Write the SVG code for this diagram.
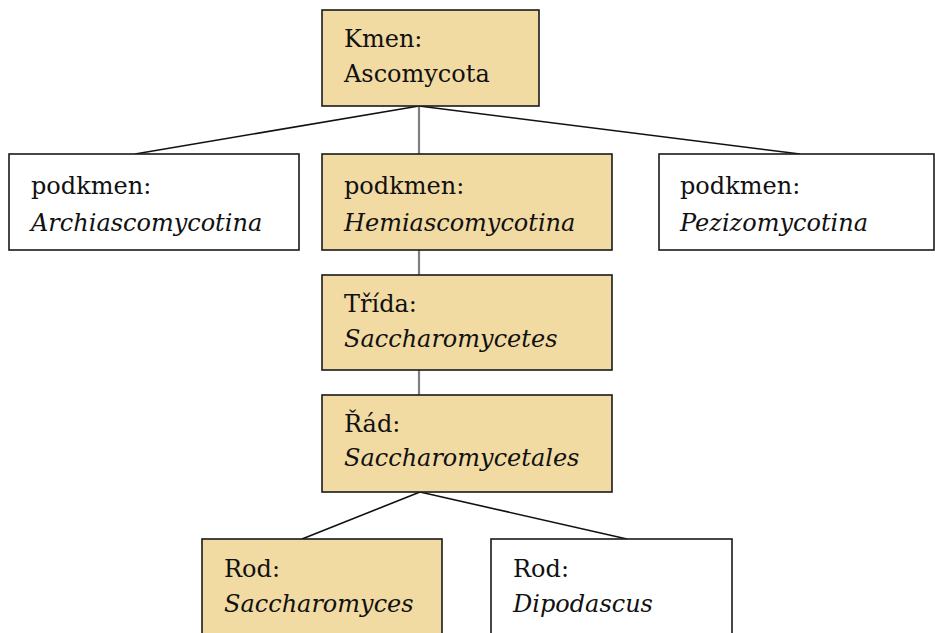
<svg xmlns="http://www.w3.org/2000/svg" width="935" height="633" viewBox="0 0 935 633">
<style>
.box{stroke:#1a1a1a;stroke-width:1.6}
.hl{fill:#F1DBA3}
.pl{fill:#ffffff}
text{font-family:"DejaVu Serif","Liberation Serif",serif;font-size:24px;fill:#111}
.it{font-style:italic}
.ln{stroke:#111;stroke-width:1.6;fill:none}
.gr{stroke:#808080;stroke-width:2.2;fill:none}
</style>
<rect width="935" height="633" fill="#ffffff"/>
<g id="connectors">
<line class="ln" x1="419" y1="106" x2="135" y2="154"/>
<line class="gr" x1="419" y1="106" x2="419" y2="154"/>
<line class="ln" x1="419" y1="106" x2="800" y2="154"/>
<line class="gr" x1="419" y1="250" x2="419" y2="275"/>
<line class="gr" x1="419" y1="370" x2="419" y2="395"/>
<line class="ln" x1="420" y1="492" x2="302" y2="539"/>
<line class="ln" x1="420" y1="492" x2="627" y2="539"/>
</g>
<g id="kmen">
<rect class="box hl" x="322" y="10" width="217" height="96"/>
<text x="344" y="47">Kmen:</text>
<text x="344" y="82">Ascomycota</text>
</g>
<g id="archi">
<rect class="box pl" x="9" y="154" width="290" height="96"/>
<text x="31" y="194">podkmen:</text>
<text x="31" y="231" class="it">Archiascomycotina</text>
</g>
<g id="hemi">
<rect class="box hl" x="322" y="154" width="290" height="96"/>
<text x="344" y="194">podkmen:</text>
<text x="344" y="231" class="it">Hemiascomycotina</text>
</g>
<g id="pezi">
<rect class="box pl" x="659" y="154" width="275" height="96"/>
<text x="680" y="194">podkmen:</text>
<text x="680" y="231" class="it">Pezizomycotina</text>
</g>
<g id="trida">
<rect class="box hl" x="322" y="275" width="290" height="95"/>
<text x="344" y="312">Třída:</text>
<text x="344" y="347" class="it">Saccharomycetes</text>
</g>
<g id="rad">
<rect class="box hl" x="322" y="395" width="290" height="97"/>
<text x="344" y="432">Řád:</text>
<text x="344" y="466" class="it">Saccharomycetales</text>
</g>
<g id="saccharomyces">
<rect class="box hl" x="202" y="539" width="240" height="110"/>
<text x="224" y="577">Rod:</text>
<text x="224" y="612" class="it">Saccharomyces</text>
</g>
<g id="dipodascus">
<rect class="box pl" x="491" y="539" width="241" height="110"/>
<text x="513" y="577">Rod:</text>
<text x="513" y="612" class="it">Dipodascus</text>
</g>
</svg>
